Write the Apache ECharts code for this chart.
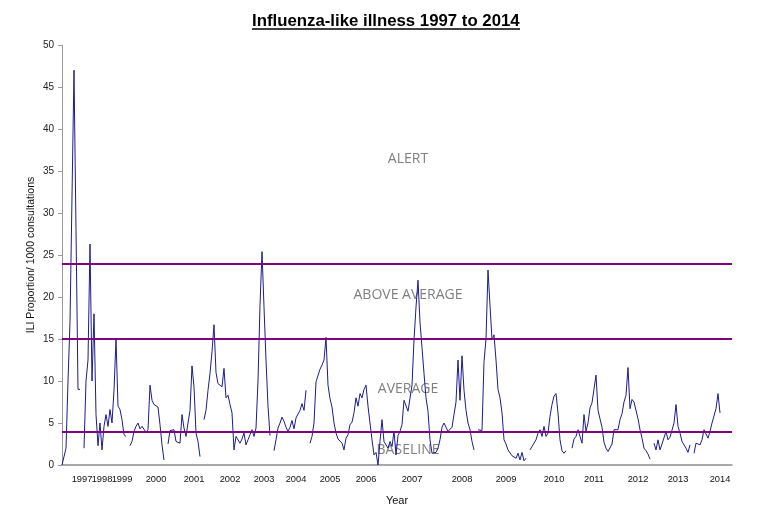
<!DOCTYPE html>
<html>
<head>
<meta charset="utf-8">
<title>Influenza-like illness 1997 to 2014</title>
<script src="https://cdn.jsdelivr.net/npm/echarts@6/dist/echarts.min.js"></script>
<style>
    html, body { margin: 0; padding: 0; background: #fff; }
    #ili_chart { width: 780px; height: 515px; }
</style>
</head>
<body>
<div id="ili_chart"></div>
<script>
// weekly ILI rate per 1000 consultations (null = no data)
let iliRate = [
    0, 0, 2, 10, 17, 17, 47, 28, 9, 9,
    null, 2, 10, 12.5, 26.3, 10, 18, 6, 2.3, 5,
    1.8, 4.6, 6, 4.6, 6.6, 5, 8.9, 15, 7, 6.6,
    5.4, 3.6, 3.4, null, 2.3, 2.8, 4, 4.6, 5, 4.3,
    4.6, 4.5, 3.9, 4.2, 9.5, 7.7, 7.2, 7.4, 6.9, 4.8,
    2.4, 0.6, null, 2.5, 4.1, 3.9, 4.2, 2.8, 3, 2.6,
    6, 4.4, 3.4, 5, 6.5, 11.8, 9.3, 3.8, 2.8, 1,
    null, 5.4, 6.5, 8.9, 10.9, 13.5, 16.7, 11, 9.7, 9.6,
    9.3, 11.5, 8, 8.3, 7.2, 6.2, 1.8, 3.4, 3.5, 2.6,
    3.1, 3.8, 2.4, 3, 3.6, 4.2, 3.4, 4.4, 10, 19,
    25.4, 18.8, 12.5, 7, 3.5, null, 1.7, 3, 4.4, 5,
    5.7, 5.2, 4.5, 4, 4.5, 5.3, 4.3, 5.6, 5.6, 6.5,
    7.3, 6.5, 8.9, null, 2.6, 3.4, 5, 9.9, 10, 11.4,
    11.9, 12.5, 15.2, 9.5, 7.9, 6.9, 5, 3.8, 3.1, 3.3,
    2.6, 1.8, 3.2, 3.6, 4.8, 5.1, 6.2, 8, 7, 8.5,
    8, 9, 9.5, 7, 5, 3, 1.2, 1.5, 0, 2.8,
    5.4, 2.8, 2.6, 2, 2.8, 2.2, 4, 1.2, 3.5, 4,
    4.8, 7.7, 7.5, 6.4, 6.5, 9.5, 14.9, 18.8, 22, 17,
    14, 10.9, 8, 6.4, 3, 1.4, 1.6, 1.5, 2, 3,
    4.5, 5, 5.2, 4, 4.2, 4.5, 6, 7.5, 12.5, 7.7,
    13, 8.9, 6.5, 5, 4.2, 2.8, 1.8, null, 4.2, 4.2,
    4.1, 12.3, 15, 23.2, 19, 14.9, 15.5, 12.5, 9, 8,
    6.2, 3, 2.5, 1.8, 2, 1.1, 1, 0.8, 1.4, 0.6,
    1.5, 0.5, 0.8, null, 1.8, 2.2, 2.2, 3, 3.8, 4.2,
    3.4, 4.6, 3.4, 3.8, 5.8, 7.2, 8.2, 8.5, 6.2, 3,
    1.7, 1.4, 1.7, null, null, 2, 3.1, 3.4, 4.2, 4.2,
    2.6, 6, 4, 5, 6.8, 7.4, 7.5, 10.7, 6.5, 6.5,
    4.5, 2.7, 2, 1.6, 1.4, 2.5, 4.2, 4, 4.2, 5.4,
    6.1, 7.5, 8.3, 11.6, 6.7, 7.8, 7.5, 7.7, 5.5, 4.2,
    3.2, 2, 1.7, 1.3, 0.7, null, 2.6, 1.8, 3, 1.8,
    2.5, 2.6, 4, 3, 3.3, 3.2, 5, 7.2, 4.6, 3.8,
    2.8, 3, 2, 1.5, 2.4, null, 1.4, 2.6, 2.4, 2.4,
    3, 4.2, 4, 3.2, 4, 5, 5, 6.7, 8.5, 6.2,
    null, null, null, null, null, null
];
// year tick labels and the week index they sit on
let yearLabels = ['1997', '1998', '1999', '2000', '2001', '2002', '2003', '2004', '2005',
    '2006', '2007', '2008', '2009', '2010', '2011', '2012', '2013', '2014'];
let yearWeekIdx = [10, 20, 30, 47, 66, 84, 101, 117, 134, 152, 175, 200, 222, 246, 266, 288, 308, 329];
// threshold levels and band names
let thresholds = [4, 15, 24];
let bandNames = ['BASELINE', 'AVERAGE', 'ABOVE AVERAGE', 'ALERT'];
let bandEdges = [0, 4, 15, 24, 50];
let bandLabelShift = [2, 4, -6, 5];

let weeks = [];
for (let i = 0; i < iliRate.length; i++) {
    weeks.push('');
}
for (let i = 0; i < yearWeekIdx.length; i++) {
    weeks[yearWeekIdx[i]] = yearLabels[i];
}

let bands = [];
for (let i = 0; i < bandNames.length; i++) {
    bands.push([
        { name: bandNames[i], yAxis: bandEdges[i], label: { offset: [11, bandLabelShift[i]] } },
        { yAxis: bandEdges[i + 1] }
    ]);
}

let iliChart = echarts.init(document.getElementById('ili_chart'));
let option = {
    backgroundColor: '#ffffff',
    animation: false,
    title: {
        text: 'Influenza-like illness 1997 to 2014',
        left: 247,
        top: 8,
        textStyle: {
            fontFamily: 'Liberation Sans',
            fontSize: 16.8,
            fontWeight: 'bold',
            color: '#000'
        }
    },
    graphic: [
        {   // underline of the title
            type: 'line',
            shape: { x1: 252, y1: 29, x2: 520, y2: 29 },
            style: { stroke: '#000', lineWidth: 1.5 }
        }
    ],
    grid: {
        left: 62,
        right: 48,
        top: 45,
        bottom: 50
    },
    xAxis: {
        type: 'category',
        data: weeks,
        boundaryGap: false,
        name: 'Year',
        nameLocation: 'middle',
        nameGap: 30,
        nameMoveOverlap: false,
        nameTextStyle: { fontFamily: 'Liberation Sans', fontSize: 11, color: '#111' },
        axisLine: { lineStyle: { color: '#8c8c8c', width: 1.5 } },
        axisTick: { show: false },
        axisLabel: {
            interval: 0,
            margin: 10,
            fontFamily: 'Liberation Sans',
            fontSize: 9.3,
            color: '#111'
        },
        splitLine: { show: false }
    },
    yAxis: {
        type: 'value',
        min: 0,
        max: 50,
        interval: 5,
        name: 'ILI Proportion/ 1000 consultations',
        nameLocation: 'middle',
        nameGap: 25,
        nameMoveOverlap: false,
        nameTextStyle: { fontFamily: 'Liberation Sans', fontSize: 10.5, color: '#111' },
        axisLine: { show: true, lineStyle: { color: '#9a9a9a', width: 1 } },
        axisTick: { show: true, length: 4, lineStyle: { color: '#9a9a9a' } },
        axisLabel: {
            margin: 8,
            fontFamily: 'Liberation Sans',
            fontSize: 10,
            color: '#222'
        },
        splitLine: { show: false }
    },
    series: [
        {
            name: 'ILI',
            type: 'line',
            data: iliRate,
            showSymbol: false,
            connectNulls: false,
            lineStyle: { color: '#1c1c8e', width: 1 },
            markLine: {
                silent: true,
                symbol: 'none',
                label: { show: false },
                lineStyle: { color: '#800080', width: 2, type: 'solid' },
                data: thresholds.map(function (t) { return { yAxis: t }; })
            },
            markArea: {
                silent: true,
                itemStyle: { color: 'rgba(0,0,0,0)' },
                label: {
                    position: 'inside',
                    fontFamily: 'Open Sans',
                    fontSize: 14,
                    color: '#7f7f7f'
                },
                data: bands
            }
        }
    ]
};
iliChart.setOption(option);
</script>
</body>
</html>
